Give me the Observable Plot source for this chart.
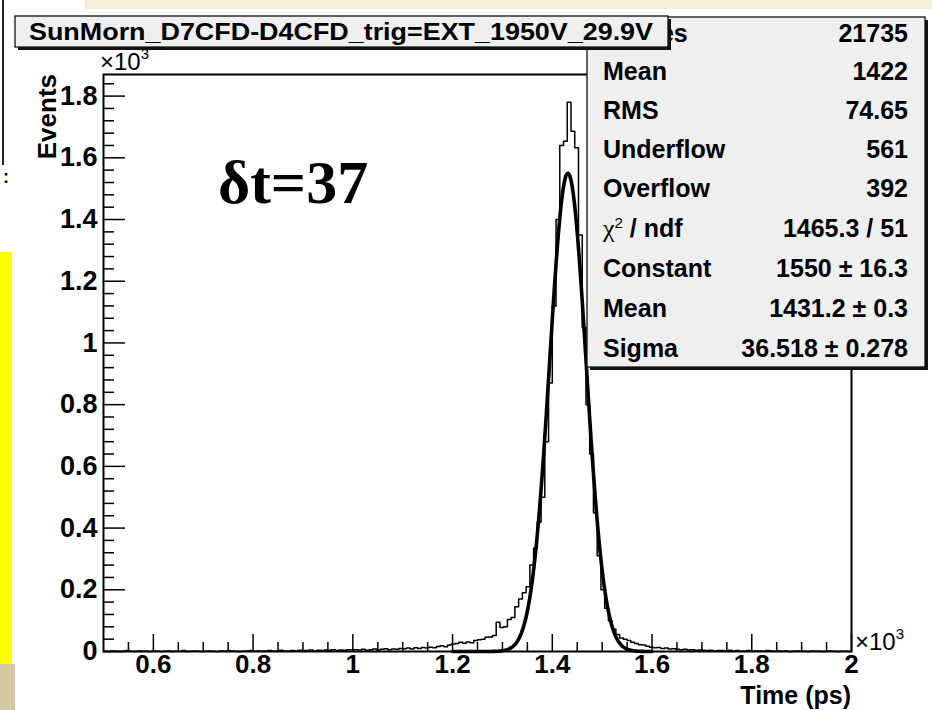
<!DOCTYPE html>
<html><head><meta charset="utf-8">
<script src="https://cdn.jsdelivr.net/npm/d3@7"></script>
<script src="https://cdn.jsdelivr.net/npm/@observablehq/plot@0.6"></script>
<style>
html,body{margin:0;padding:0;background:#fff;}
#wrap{position:relative;width:932px;height:710px;overflow:hidden;background:#fff;}
#wrap svg{position:absolute;left:0;top:0;}
.deco{position:absolute;}
</style></head><body>
<div id="wrap"></div>
<script>
// ---- data ----
const binStart = 500, binEnd = 2000, binWidth = 7.5;
// histogram counts per 7.5 ps bin, from 500 ps to 2000 ps (200 bins)
const counts = [
  1,0,2,1,0,1,3,1,0,2,1,1,0,2,          // 500-605
  1,0,1,2,0,1,1,3,0,1,2,1,0,            // 605-702.5
  1,2,1,0,2,1,3,2,1,0,1,2,3,1,          // 702.5-807.5
  2,1,2,3,1,2,4,2,1,3,2,4,3,            // 807.5-905
  3,5,2,4,3,5,4,6,3,5,4,6,5,            // 905-1002.5
  6,5,7,4,6,8,5,7,9,6,8,7,10,           // 1002.5-1100
  9,11,8,12,10,13,11,14,12,16,19,15,    // 1100-1190
  21,24,26,30,27,31,28,36,38,40,46,47,52,95,78,80,104,110,145,170,190,210,280,335,420,500,680,870,1120,1400,
  1640,1654,1780,1686,1633,1350,1050,800,640,450,310,200,140,100,72,55,44,40,36,30,26,22,21,17,14,12,13,10,11,8,9,7,6,7,5,6,4,5,4,
  3,4,2,3,3,2,4,2,3,1, 2,3,1,2,2,1,3,2,1,2, 1,2,0,1,2,1,1,0,2,1, 1,0,1,2,1,0,1,1,0
];
// Gaussian fit parameters (from the stats box) and fit range
const fitConstant = 1550, fitMean = 1431.2, fitSigma = 36.518;
const fitRange = [1200, 1600];

const xMajorTicks = [600, 800, 1000, 1200, 1400, 1600, 1800, 2000];
const xTickLabels = ["0.6", "0.8", "1", "1.2", "1.4", "1.6", "1.8", "2"];
const xMinorTicks = [550,650,700,750,850,900,950,1050,1100,1150,1250,1300,1350,1450,1500,1550,1650,1700,1750,1850,1900,1950];
const yMajorTicks = [0, 200, 400, 600, 800, 1000, 1200, 1400, 1600, 1800];
const yTickLabels = ["0", "0.2", "0.4", "0.6", "0.8", "1", "1.2", "1.4", "1.6", "1.8"];
const yMinorTicks = d3.range(40, 1870, 40).filter(v => v % 200 !== 0);

const titleText = "SunMorn_D7CFD-D4CFD_trig=EXT_1950V_29.9V";
const statLabels = ["Entries", "Mean", "RMS", "Underflow", "Overflow", "chi2", "Constant", "Mean", "Sigma"];
const statValues = ["21735", "1422", "74.65", "561", "392", "1465.3 / 51", "1550 \u00b1 16.3", "1431.2 \u00b1 0.3", "36.518 \u00b1 0.278"];
const annotation = "\u03b4t=37";
const xLabel = "Time (ps)";
const yLabel = "Events";

// ---- build ----
const histPts = counts.map((c, i) => ({t: binStart + i * binWidth, c}));
histPts.push({t: binEnd, c: counts[counts.length - 1]});
const fitPts = d3.range(fitRange[0], fitRange[1] + 0.5, 1).map(t => ({t, v: fitConstant * Math.exp(-0.5 * ((t - fitMean) / fitSigma) ** 2)}));

const W = 932, H = 710, mL = 103, mR = 81, mT = 74, mB = 59;
const fw = W - mL - mR, fh = H - mT - mB;
const FONT = "'Liberation Sans', Arial, Helvetica, sans-serif";

const svg = Plot.plot({
  width: W, height: H,
  marginLeft: mL, marginRight: mR, marginTop: mT, marginBottom: mB,
  style: {fontFamily: FONT, fontWeight: "bold", fontSize: "27px", background: "transparent", color: "black"},
  x: {domain: [binStart, binEnd]},
  y: {domain: [0, 1870]},
  marks: [
    Plot.tickX(xMinorTicks, {stroke: "black", strokeWidth: 1.5, insetTop: fh - 9}),
    Plot.tickX(xMajorTicks, {stroke: "black", strokeWidth: 1.5, insetTop: fh - 17}),
    Plot.tickY(yMinorTicks, {stroke: "black", strokeWidth: 1.5, insetRight: fw - 11}),
    Plot.tickY(yMajorTicks, {stroke: "black", strokeWidth: 1.5, insetRight: fw - 22}),
    Plot.axisX({ticks: xMajorTicks, tickSize: 0, tickPadding: 3, label: null, fontSize: 26,
      tickFormat: d => xTickLabels[xMajorTicks.indexOf(d)]}),
    Plot.axisY({ticks: yMajorTicks, tickSize: 0, tickPadding: 6, label: null,
      tickFormat: d => yTickLabels[yMajorTicks.indexOf(d)]}),
    Plot.line(histPts, {x: "t", y: "c", curve: "step-after", stroke: "black", strokeWidth: 1.5}),
    Plot.line(fitPts, {x: "t", y: "v", stroke: "black", strokeWidth: 3.6}),
    Plot.frame({stroke: "black", strokeWidth: 2})
  ]
});
document.getElementById("wrap").appendChild(svg);

const g = d3.select(svg).append("g").attr("font-family", FONT).attr("fill", "black")
  .attr("text-anchor", "start");

function pave(x, y, w, h) {
  g.append("rect").attr("x", x + 3).attr("y", y + 3).attr("width", w).attr("height", h).attr("fill", "#111");
  g.append("rect").attr("x", x).attr("y", y).attr("width", w).attr("height", h)
    .attr("fill", "#efefef").attr("stroke", "#111").attr("stroke-width", 1.3);
}

// stats box
pave(587, 17, 338, 350);
const rowY = [33, 71, 110, 149, 188, 228, 268, 308, 348];
statLabels.forEach((lab, i) => {
  const t = g.append("text").attr("x", 603).attr("y", rowY[i] + 9).attr("text-anchor", "start")
    .attr("font-size", 25).attr("font-weight", "bold");
  if (lab === "chi2") {
    t.append("tspan").attr("font-family", "'Liberation Serif', serif").attr("font-weight", "normal").attr("font-size", 26).text("\u03c7");
    t.append("tspan").attr("font-size", 15).attr("dy", -9).attr("font-weight", "normal").text("2");
    t.append("tspan").attr("dy", 9).text(" / ndf");
  } else t.text(lab);
  g.append("text").attr("x", 908).attr("y", rowY[i] + 9).attr("text-anchor", "end")
    .attr("font-size", 25).attr("font-weight", "bold").text(statValues[i]);
});

// title box
pave(15, 16, 653, 31);
g.append("text").attr("x", 341).attr("y", 40).attr("text-anchor", "middle")
  .attr("font-size", 23).attr("font-weight", "bold")
  .attr("textLength", 624).attr("lengthAdjust", "spacingAndGlyphs").text(titleText);

// axis titles and exponents
g.append("text").attr("transform", "translate(56,74) rotate(-90)").attr("text-anchor", "end")
  .attr("font-size", 26).attr("font-weight", "bold").text(yLabel);
g.append("text").attr("x", 851).attr("y", 704).attr("text-anchor", "end")
  .attr("font-size", 25).attr("font-weight", "bold").text(xLabel);
function exp10(x, y) {
  const t = g.append("text").attr("x", x).attr("y", y).attr("text-anchor", "start")
    .attr("font-size", 24).attr("font-weight", "normal");
  t.append("tspan").text("\u00d710");
  t.append("tspan").attr("font-size", 15).attr("dy", -11).text("3");
}
exp10(100, 70);
exp10(855, 650);

// annotation
g.append("text").attr("x", 218).attr("y", 203).attr("text-anchor", "start")
  .attr("font-family", "'Liberation Serif', 'Times New Roman', serif")
  .attr("font-size", 62).attr("font-weight", "bold").text(annotation);

// slide background fragments around the canvas
const wrap = document.getElementById("wrap");
function deco(l, t, w, h, c) {
  const d = document.createElement("div");
  d.className = "deco";
  Object.assign(d.style, {left: l + "px", top: t + "px", width: w + "px", height: h + "px", background: c});
  wrap.appendChild(d);
}
deco(85, 0, 847, 9, "#f4eed8");
deco(2, 0, 2, 165, "#222");
deco(0, 252, 12, 412, "#ffff00");
deco(0, 664, 15, 46, "#d5c9a4");
const frag = document.createElement("div");
frag.className = "deco";
Object.assign(frag.style, {left: "3px", top: "168px", font: "bold 18px " + FONT, lineHeight: "18px"});
frag.textContent = ":";
wrap.appendChild(frag);
</script>
</body></html>
